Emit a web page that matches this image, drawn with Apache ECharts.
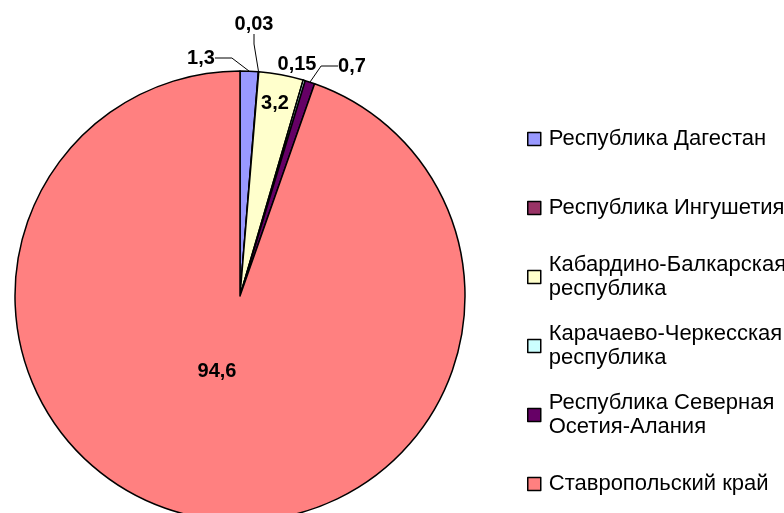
<!DOCTYPE html>
<html><head><meta charset="utf-8">
<script src="https://cdn.jsdelivr.net/npm/echarts@6/dist/echarts.min.js"></script>
<style>html,body{margin:0;padding:0;background:#fff}#c{width:784px;height:513px}</style>
</head><body><div id="c"></div>
<script>
const categories = ['Республика Дагестан','Республика Ингушетия','Кабардино-Балкарская\nреспублика','Карачаево-Черкесская\nреспублика','Республика Северная\nОсетия-Алания','Ставропольский край'];
const values = [1.3, 0.03, 3.2, 0.15, 0.7, 94.6];
const colors = ['#9999FF','#993366','#FFFFCC','#CCFFFF','#660066','#FF8080'];
const labelPos = [[201,58],[254,24],[275,103],[297,64],[352,66],[217,371]];
const labelInside = [false,false,true,false,false,true];
const labelLineLen2 = [17,10,0,0,17,0];
const showLine = [true,true,false,false,true,false];
const legendCenters = [139,208,277,346,415,484];

const font = "'Liberation Sans', Arial, sans-serif";
const LH = 24;
const ICON = 13;
const data = categories.map((n,i)=>({
  name:n, value:values[i],
  itemStyle:{color:colors[i]},
  label:{position: labelInside[i] ? 'inside' : 'outside'},
  labelLine:{show:showLine[i], length:10, length2:labelLineLen2[i], lineStyle:{color:'#000',width:1}}
}));
const legends = categories.map((n,i)=>{
  const lines = n.split('\n').length;
  return {
    data:[n], orient:'vertical', left:527, top: lines===1 ? legendCenters[i]-LH/2 : legendCenters[i]-1.5*LH,
    padding:0, itemGap:0, itemWidth:ICON, itemHeight:ICON, icon:'rect', selectedMode:false,
    itemStyle:{borderColor:'#000', borderWidth:1.5},
    textStyle:{fontFamily:font, fontSize:22, lineHeight:LH, color:'#000', padding: lines===1 ? [0,0,0,3] : [LH,0,0,3]}
  };
});
const chart = echarts.init(document.getElementById('c'), null, {renderer:'canvas'});
chart.setOption({
  animation:false,
  backgroundColor:'#fff',
  legend: legends,
  series:[{
    type:'pie', center:[240,296], radius:225, startAngle:90, clockwise:true,
    avoidLabelOverlap:false, silent:true,
    itemStyle:{borderColor:'#000', borderWidth:1.5},
    label:{show:true, color:'#000', fontFamily:font, fontWeight:'bold', fontSize:20,
      formatter:p=>String(p.value).replace('.',',')},
    labelLayout:function(p){const q=labelPos[p.dataIndex];return {x:q[0], y:q[1], align:'center', verticalAlign:'middle'};},
    data:data
  }]
});
</script></body></html>
